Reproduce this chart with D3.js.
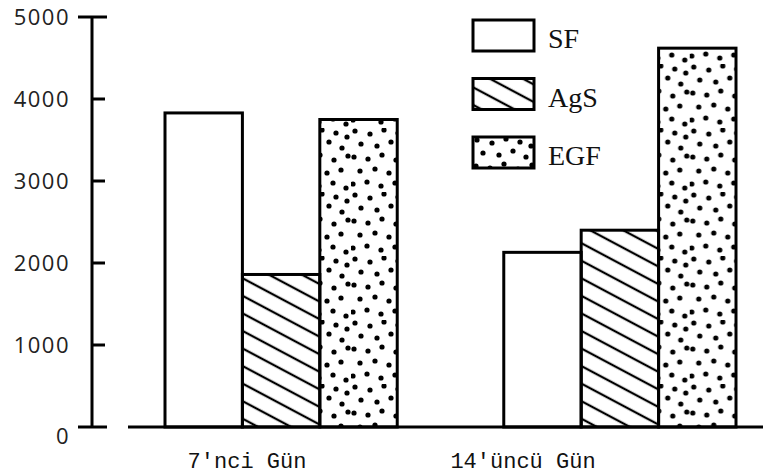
<!DOCTYPE html>
<html>
<head>
<meta charset="utf-8">
<script src="https://cdn.jsdelivr.net/npm/d3@7"></script>
<style>
  html, body { margin: 0; padding: 0; background: #fff; }
  svg { display: block; }
</style>
</head>
<body>
<svg id="chart" width="763" height="475"></svg>
<script>
// ---- data ----
const categories = ["7'nci Gün", "14'üncü Gün"];
const seriesNames = ["SF", "AgS", "EGF"];
const sfValues  = [3830, 2130];
const agsValues = [1860, 2400];
const egfValues = [3750, 4620];
const yTicks = [0, 1000, 2000, 3000, 4000, 5000];

const seriesValues = { SF: sfValues, AgS: agsValues, EGF: egfValues };
const rows = categories.map((c, i) => ({
  category: c,
  values: seriesNames.map(s => ({ series: s, value: seriesValues[s][i] }))
}));

// ---- layout ----
const W = 763, H = 475;
const svg = d3.select("#chart");

const y = d3.scaleLinear().domain([0, 5000]).range([427, 17]);
const x0 = d3.scaleBand().domain(categories).range([165, 736]).paddingInner(0.3145).paddingOuter(0);
const x1 = d3.scaleBand().domain(seriesNames).range([0, x0.bandwidth()]).padding(0);
const xLabel = d3.scalePoint().domain(categories).range([247, 523]);
const axisX = 92;

// ---- patterns ----
const defs = svg.append("defs");
const hatch = defs.append("pattern")
  .attr("id", "hatch").attr("patternUnits", "userSpaceOnUse")
  .attr("width", 20).attr("height", 15.5)
  .attr("patternTransform", "rotate(28)");
hatch.append("line").attr("x1", -2).attr("x2", 22).attr("y1", 7.75).attr("y2", 7.75)
  .attr("stroke", "#000").attr("stroke-width", 2.3);

const dotTile = [
  [4,3],[19,6],[33,2],[47,5],[58,9],
  [10,16],[26,18],[40,14],[53,20],
  [3,29],[17,31],[31,27],[45,32],[59,28],
  [9,43],[24,41],[38,45],[52,42],
  [2,56],[16,54],[30,58],[44,55],[57,60]
];
const dots = defs.append("pattern")
  .attr("id", "dots").attr("patternUnits", "userSpaceOnUse")
  .attr("width", 62).attr("height", 64);
dots.selectAll("circle").data(dotTile).join("circle")
  .attr("cx", d => d[0]).attr("cy", d => d[1]).attr("r", 2.6).attr("fill", "#000");

const fills = { SF: "#fff", AgS: "url(#hatch)", EGF: "url(#dots)" };

// ---- bars ----
const groups = svg.append("g").selectAll("g").data(rows).join("g")
  .attr("transform", d => `translate(${x0(d.category)},0)`);
groups.selectAll("rect").data(d => d.values).join("rect")
  .attr("x", d => x1(d.series))
  .attr("y", d => y(d.value))
  .attr("width", x1.bandwidth())
  .attr("height", d => y(0) - y(d.value))
  .attr("fill", d => fills[d.series])
  .attr("stroke", "#000").attr("stroke-width", 3)
  .attr("stroke-linejoin", "miter");

// ---- x axis baseline ----
svg.append("line")
  .attr("x1", 128).attr("x2", W)
  .attr("y1", y(0)).attr("y2", y(0))
  .attr("stroke", "#000").attr("stroke-width", 3);

// ---- y axis ----
const yAxisG = svg.append("g").attr("transform", `translate(${axisX},0)`);
yAxisG.append("line").attr("x1", 0).attr("x2", 0)
  .attr("y1", y(5000)).attr("y2", y(0))
  .attr("stroke", "#000").attr("stroke-width", 3);
yAxisG.selectAll("line.tick").data(yTicks).join("line")
  .attr("class", "tick")
  .attr("x1", d => (d === 0 || d === 5000) ? -14 : 0)
  .attr("x2", d => (d === 0 || d === 5000) ? 15 : 13)
  .attr("y1", d => y(d)).attr("y2", d => y(d))
  .attr("stroke", "#000").attr("stroke-width", 3);
yAxisG.selectAll("text").data(yTicks).join("text")
  .attr("x", -22)
  .attr("y", d => y(d))
  .attr("dy", d => d === 0 ? "0.75em" : "0.36em")
  .attr("text-anchor", "end")
  .attr("font-family", "Open Sans, DejaVu Sans, sans-serif")
  .attr("font-size", 22)
  .attr("letter-spacing", 1.5)
  .attr("fill", "#222")
  .text(d => d);

// ---- x labels ----
svg.append("g").selectAll("text").data(categories).join("text")
  .attr("x", d => xLabel(d))
  .attr("y", 468)
  .attr("text-anchor", "middle")
  .attr("font-family", "Liberation Mono, monospace")
  .attr("font-size", 22)
  .attr("fill", "#111")
  .text(d => d);

// ---- legend ----
const legend = svg.append("g").attr("transform", "translate(473,20)");
const li = legend.selectAll("g").data(seriesNames).join("g")
  .attr("transform", (d, i) => `translate(0,${i * 58.5})`);
li.append("rect")
  .attr("width", 61).attr("height", 31)
  .attr("fill", d => fills[d])
  .attr("stroke", "#000").attr("stroke-width", 3);
li.append("text")
  .attr("x", 75).attr("y", 28)
  .attr("font-family", "Liberation Serif, serif")
  .attr("font-size", 28)
  .attr("fill", "#111")
  .text(d => d);
</script>
</body>
</html>
